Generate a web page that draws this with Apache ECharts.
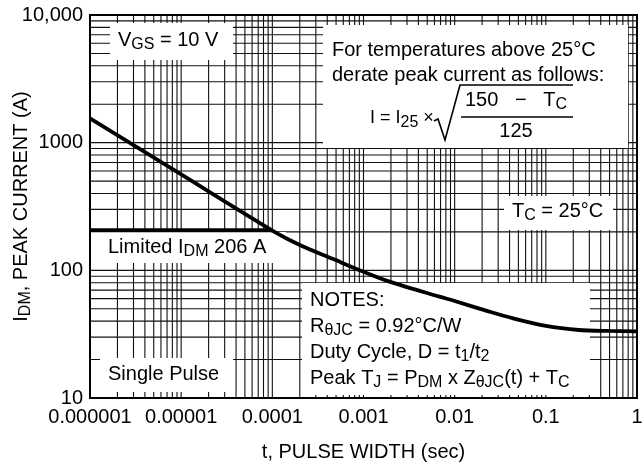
<!DOCTYPE html>
<html><head><meta charset="utf-8">
<script src="https://cdn.jsdelivr.net/npm/echarts@6/dist/echarts.min.js"></script>
<style>html,body{margin:0;padding:0;background:#fff}#c{width:644px;height:469px}</style>
</head><body><div id="c"></div>
<script>
// ---- data ----
const pulseWidth  = [1e-6, 1e-5, 1e-4, 2e-4, 4.6e-4, 1e-3, 1.93e-3, 6.8e-3, 1e-2, 2.4e-2, 4.3e-2, 0.1, 0.23, 0.5, 1];
const peakCurrent = [1553, 564, 205, 158, 123, 97.5, 81.6, 62.2, 57.5, 47.5, 42.2, 36.7, 34.1, 33.5, 33.3];
const limitTime    = [1e-6, 1e-4];
const limitCurrent = [206, 206];
const xTickLabels = ['0.000001', '0.00001', '0.0001', '0.001', '0.01', '0.1', '1'];
const yTickLabels = ['10', '100', '1000', '10,000'];
const xDecades = [1e-6, 1e-5, 1e-4, 1e-3, 1e-2, 1e-1];
const yDecades = [10, 100, 1000];

const F = "'Liberation Sans', Arial, Helvetica, sans-serif";
const FS = 20, LH = 26;

// log grid lines (1..9 per decade)
const gridData = [];
xDecades.forEach(d => { for (let m = 1; m <= 9; m++) { const v = Number((d * m).toPrecision(6)); if (v > 1e-6) gridData.push([v, 10, 0]); } });
yDecades.forEach(d => { for (let m = 1; m <= 9; m++) { const v = Number((d * m).toPrecision(6)); if (v > 10) gridData.push([1e-6, v, 1]); } });

const curve = pulseWidth.map((t, i) => [t, peakCurrent[i]]);
const limit = limitTime.map((t, i) => [t, limitCurrent[i]]);

const richStyles = {
  n: { fontSize: FS, fontFamily: F, lineHeight: LH, fill: '#000', color: '#000' },
  s: { fontSize: 16, fontFamily: F, lineHeight: 12, verticalAlign: 'bottom', fill: '#000', color: '#000' }
};

function box(x, y, w, h) {
  return { type: 'rect', z: 3, silent: true, shape: { x: x, y: y, width: w, height: h }, style: { fill: '#fff' } };
}
function txt(x, baseline, text, align, size) {
  return {
    type: 'text', z: 4, silent: true, x: x, y: baseline - 20,
    style: { text: text, fontSize: size || FS, fontFamily: F, lineHeight: LH, fill: '#000',
             align: align || 'left', verticalAlign: 'top', rich: richStyles }
  };
}

const chart = echarts.init(document.getElementById('c'), null, { renderer: 'canvas' });
chart.setOption({
  animation: false,
  backgroundColor: '#fff',
  grid: { left: 90, right: 7, top: 15, bottom: 71, containLabel: false, outerBoundsMode: 'none',
          show: true, borderColor: '#000', borderWidth: 2, backgroundColor: 'transparent', z: 6 },
  xAxis: {
    type: 'log', logBase: 10, min: 1e-6, max: 1, z: 6,
    name: 't, PULSE WIDTH (sec)', nameLocation: 'middle', nameGap: 44, nameMoveOverlap: false,
    nameTextStyle: { fontSize: FS, fontFamily: F, color: '#000' },
    axisLine: { show: true, lineStyle: { color: '#000', width: 2 } },
    axisTick: { show: false },
    splitLine: { show: false },
    axisLabel: { margin: 9, fontSize: FS, fontFamily: F, color: '#000',
      formatter: v => xTickLabels[Math.round(Math.log10(v)) + 6] }
  },
  yAxis: {
    type: 'log', logBase: 10, min: 10, max: 10000, z: 6,
    name: 'I{s|DM}, PEAK CURRENT (A)', nameLocation: 'middle', nameGap: 56, nameRotate: 90, nameMoveOverlap: false,
    nameTextStyle: { fontSize: FS, fontFamily: F, color: '#000', lineHeight: LH, rich: { s: richStyles.s } },
    axisLine: { show: true, lineStyle: { color: '#000', width: 2 } },
    axisTick: { show: false },
    splitLine: { show: false },
    axisLabel: { margin: 7, fontSize: FS, fontFamily: F, color: '#000',
      formatter: v => yTickLabels[Math.round(Math.log10(v)) - 1] }
  },
  series: [
    {
      type: 'custom', coordinateSystem: 'cartesian2d', z: 1, silent: true, clip: false,
      data: gridData,
      renderItem: function (params, api) {
        const cs = params.coordSys;
        if (api.value(2) === 0) {
          const p = api.coord([api.value(0), 10]);
          return { type: 'line', shape: { x1: p[0], y1: cs.y, x2: p[0], y2: cs.y + cs.height }, style: { stroke: '#111', lineWidth: 1.1 } };
        }
        const p = api.coord([1e-6, api.value(1)]);
        return { type: 'line', shape: { x1: cs.x, y1: p[1], x2: cs.x + cs.width, y2: p[1] }, style: { stroke: '#111', lineWidth: 1.1 } };
      }
    },
    {
      type: 'line', z: 5, data: curve, smooth: 0.3, showSymbol: false, silent: true,
      lineStyle: { color: '#000', width: 3.8 }
    },
    {
      type: 'line', z: 5, data: limit, showSymbol: false, silent: true,
      lineStyle: { color: '#000', width: 3.8 }
    }
  ],
  graphic: { elements: [
    box(110, 23, 123, 37),
    box(323, 25, 305, 123),
    box(504, 196, 109, 34),
    box(91, 232, 195, 31),
    box(100, 358, 133, 34),
    box(302, 283, 288, 112),
    txt(118, 47, 'V{s|GS} = 10 V'),
    txt(332, 57, 'For temperatures above 25°C'),
    txt(332, 82, 'derate peak current as follows:'),
    txt(370, 125, 'I = I{s|25} ×', 'left', 18),
    txt(516, 107, '150   −   T{s|C}', 'center'),
    txt(516, 138, '125', 'center'),
    { type: 'polyline', z: 4, silent: true, shape: { points: [[434, 121], [438, 119], [445, 140], [460, 85], [573, 85]] }, style: { stroke: '#000', lineWidth: 1.6, fill: null } },
    { type: 'line', z: 4, silent: true, shape: { x1: 461, y1: 117, x2: 573, y2: 117 }, style: { stroke: '#000', lineWidth: 1.5 } },
    txt(512, 218, 'T{s|C} = 25°C'),
    txt(108, 254, 'Limited I{s|DM} 206 A'),
    txt(108, 381, 'Single Pulse'),
    txt(310, 307, 'NOTES:\nR{s|θJC} = 0.92°C/W\nDuty Cycle, D = t{s|1}/t{s|2}\nPeak T{s|J} = P{s|DM} x Z{s|θJC}(t) + T{s|C}')
  ] }
});
</script>
</body></html>
